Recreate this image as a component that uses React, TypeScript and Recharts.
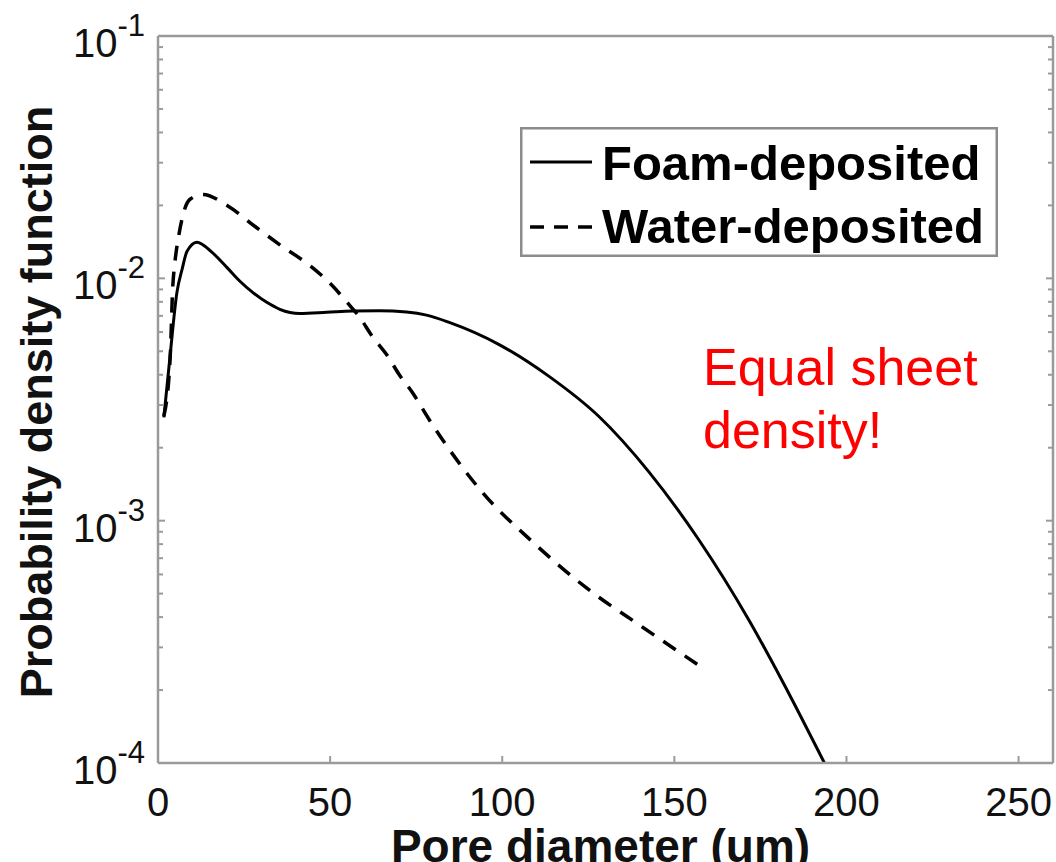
import React from 'react';
import { LineChart, Line, XAxis, YAxis, Legend } from 'recharts';

const FONT = "'Liberation Sans', Arial, Helvetica, sans-serif";
const AXIS_COLOR = '#9a9a9a';
const TEXT_COLOR = '#111111';

// Foam-deposited (solid)
const foamX = [1.7, 3.5, 5.5, 7.0, 8.4, 11.3, 15.7, 20.0, 23.8, 27.5, 31.6, 35.4, 41.2, 49.0, 56.5, 64.3, 72.2, 78.0, 84.6, 99.1, 113.6, 128.1, 142.6, 157.1, 171.6, 181.2, 193.6];
const foamY = [0.00267, 0.00477, 0.00875, 0.0109, 0.0129, 0.0141, 0.0128, 0.0111, 0.00973, 0.00875, 0.00796, 0.00745, 0.00716, 0.00724, 0.00733, 0.00735, 0.00726, 0.00705, 0.00658, 0.00533, 0.00394, 0.00269, 0.00159, 0.000834, 0.00039, 0.00022, 0.0001];

// Water-deposited (dashed)
const waterX = [1.7, 3.5, 4.3, 4.9, 6.1, 7.5, 9.3, 13.0, 20.3, 28.1, 36.2, 44.1, 50.4, 54.8, 58.6, 62.3, 66.4, 70.1, 73.9, 78.8, 86.7, 94.2, 108.7, 124.3, 140.6, 159.1];
const waterY = [0.0027, 0.0046, 0.0093, 0.0116, 0.0152, 0.0188, 0.0212, 0.0222, 0.0199, 0.0164, 0.0135, 0.0113, 0.0094, 0.008, 0.0069, 0.00575, 0.00485, 0.004, 0.00338, 0.00261, 0.00179, 0.00131, 0.00082, 0.00053, 0.000365, 0.000242];

const xTicks = [0, 50, 100, 150, 200, 250];
const xTickLabels = ['0', '50', '100', '150', '200', '250'];
const yDecades = [1e-4, 1e-3, 1e-2, 1e-1];
const yExponents = ['-4', '-3', '-2', '-1'];
const yMinorSteps = [2, 3, 4, 5, 6, 7, 8, 9];
const seriesNames = ['Foam-deposited', 'Water-deposited'];
const xTitle = 'Pore diameter (um)';
const yTitle = 'Probability density function';
const noteLines = ['Equal sheet', 'density!'];

const foamData = foamX.map((x, i) => ({ x, y: foamY[i] }));
const waterData = waterX.map((x, i) => ({ x, y: waterY[i] }));

const yTicks: number[] = [];
yDecades.forEach((d, i) => {
  yTicks.push(d);
  if (i < yDecades.length - 1) yMinorSteps.forEach((m) => yTicks.push(d * m));
});

const majorIndex = (v: number) => {
  for (let i = 0; i < yDecades.length; i++) {
    if (Math.abs(v - yDecades[i]) / yDecades[i] < 1e-6) return i;
  }
  return -1;
};

const LeftTick = (props: any) => {
  const { x, y, payload } = props;
  const mi = majorIndex(payload.value);
  return (
    <g>
      <line x1={x} x2={x + (mi >= 0 ? 7 : 5)} y1={y} y2={y} stroke={AXIS_COLOR} strokeWidth={2} />
      {mi >= 0 && (
        <text x={x - 13} y={y + 21} textAnchor="end" fontFamily={FONT} fontSize={40} fill={TEXT_COLOR}>
          <tspan>10</tspan>
          <tspan fontSize={31} dy={-21}>{yExponents[mi]}</tspan>
        </text>
      )}
    </g>
  );
};

const RightTick = (props: any) => {
  const { x, y, payload } = props;
  const mi = majorIndex(payload.value);
  return <line x1={x} x2={x - (mi >= 0 ? 7 : 5)} y1={y} y2={y} stroke={AXIS_COLOR} strokeWidth={2} />;
};

const BottomTick = (props: any) => {
  const { x, y, payload } = props;
  const i = xTicks.indexOf(payload.value);
  return (
    <g>
      <line x1={x} x2={x} y1={y} y2={y - 7} stroke={AXIS_COLOR} strokeWidth={2} />
      <text x={x} y={y + 53} textAnchor="middle" fontFamily={FONT} fontSize={40} fill={TEXT_COLOR}>
        {xTickLabels[i]}
      </text>
    </g>
  );
};

const TopTick = (props: any) => {
  const { x, y } = props;
  return <line x1={x} x2={x} y1={y} y2={y + 7} stroke={AXIS_COLOR} strokeWidth={2} />;
};

const XTitle = (props: any) => {
  const vb = props.viewBox;
  return (
    <text x={vb.x + vb.width / 2 - 5} y={vb.y + vb.height} textAnchor="middle" fontFamily={FONT} fontWeight="bold" fontSize={46} fill={TEXT_COLOR}>
      {xTitle}
    </text>
  );
};

const YTitle = (props: any) => {
  const vb = props.viewBox;
  const cx = vb.x + 52;
  const cy = vb.y + vb.height / 2 + 2.5;
  return (
    <text x={cx} y={cy} transform={`rotate(-90, ${cx}, ${cy})`} textAnchor="middle" fontFamily={FONT} fontWeight="bold" fontSize={45} fill={TEXT_COLOR}>
      {yTitle}
    </text>
  );
};

const LegendBox = () => (
  <svg width={478} height={130} style={{ display: 'block' }}>
    <rect x={1.25} y={1.25} width={475.5} height={127.5} fill="#ffffff" stroke="#8c8c8c" strokeWidth={2.5} />
    <line x1={10} x2={72} y1={35} y2={35} stroke="#000" strokeWidth={3} />
    <text x={82} y={53} fontFamily={FONT} fontWeight="bold" fontSize={49} fill="#000">{seriesNames[0]}</text>
    <line x1={10} x2={72} y1={100} y2={100} stroke="#000" strokeWidth={3.5} strokeDasharray="14 10" />
    <text x={82} y={116} fontFamily={FONT} fontWeight="bold" fontSize={49} fill="#000">{seriesNames[1]}</text>
  </svg>
);

export default function App() {
  const axisLine = { stroke: AXIS_COLOR, strokeWidth: 2.5 };
  return (
    <div style={{ width: 1040, height: 846 }}>
      <div style={{ position: 'fixed', left: 0, top: 0, width: 1056, height: 862, background: '#fff', overflow: 'hidden' }}>
        <LineChart width={1056} height={862} margin={{ top: 35, right: 2, bottom: 0, left: 0 }}>
          <XAxis
            xAxisId="b"
            dataKey="x"
            type="number"
            domain={[0, 260]}
            ticks={xTicks}
            interval={0}
            tickSize={0}
            tickMargin={0}
            tick={BottomTick}
            tickLine={false}
            axisLine={axisLine}
            height={99}
            allowDataOverflow
            label={XTitle}
          />
          <XAxis
            xAxisId="t"
            orientation="top"
            type="number"
            domain={[0, 260]}
            ticks={xTicks}
            interval={0}
            tickSize={0}
            tickMargin={0}
            tick={TopTick}
            tickLine={false}
            axisLine={axisLine}
            height={1}
            allowDataOverflow
          />
          <YAxis
            yAxisId="l"
            type="number"
            scale="log"
            domain={[1e-4, 1e-1]}
            ticks={yTicks}
            interval={0}
            tickSize={0}
            tickMargin={0}
            tick={LeftTick}
            tickLine={false}
            axisLine={axisLine}
            width={158}
            allowDataOverflow
            label={YTitle}
          />
          <YAxis
            yAxisId="r"
            orientation="right"
            type="number"
            scale="log"
            domain={[1e-4, 1e-1]}
            ticks={yTicks}
            interval={0}
            tickSize={0}
            tickMargin={0}
            tick={RightTick}
            tickLine={false}
            axisLine={axisLine}
            width={1}
            allowDataOverflow
          />
          <Line
            xAxisId="b"
            yAxisId="l"
            data={foamData}
            dataKey="y"
            name={seriesNames[0]}
            type="monotone"
            stroke="#000"
            strokeWidth={3}
            dot={false}
            isAnimationActive={false}
          />
          <Line
            xAxisId="b"
            yAxisId="l"
            data={waterData}
            dataKey="y"
            name={seriesNames[1]}
            type="monotone"
            stroke="#000"
            strokeWidth={3.5}
            strokeDasharray="15 11"
            dot={false}
            isAnimationActive={false}
          />
          <Legend
            layout="horizontal"
            verticalAlign="middle"
            align="center"
            content={LegendBox}
            wrapperStyle={{ left: 520, top: 127, width: 478, height: 130 }}
          />
        </LineChart>
        <svg width={1056} height={862} style={{ position: 'absolute', left: 0, top: 0, pointerEvents: 'none' }}>
          {noteLines.map((t, i) => (
            <text key={t} x={703} y={385 + i * 63} fontFamily={FONT} fontSize={52} fill="#ff0000">
              {t}
            </text>
          ))}
        </svg>
      </div>
    </div>
  );
}
